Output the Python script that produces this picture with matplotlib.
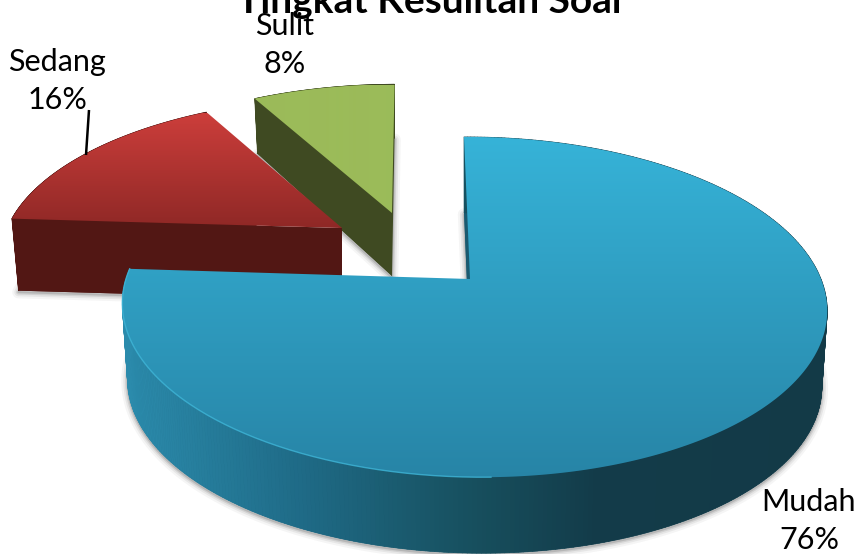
import numpy as np
import matplotlib
matplotlib.use("Agg")
import matplotlib.pyplot as plt
from matplotlib.collections import PolyCollection
from matplotlib.colors import LinearSegmentedColormap, to_rgb
from matplotlib.patches import Polygon

labels = ["Mudah", "Sedang", "Sulit"]
values = [76, 16, 8]
title = "Tingkat Kesulitan Soal"

plt.rcParams["font.family"] = ["Lato", "DejaVu Sans"]

W, H = 861, 554
fig = plt.figure(figsize=(W / 100, H / 100), dpi=100)
ax = fig.add_axes([0, 0, 1, 1])
ax.set_xlim(0, W)
ax.set_ylim(H, 0)
ax.axis("off")

K, MX = 0.165, -0.01

styles = [
    dict(A=(470, 279), M=((347.5, -7), (0, 165.5)), depth=76, s=(0.985, 1.0),
         top=("#36b3d8", "#2784a6"), ybar=(137, 480),
         side=[(125, "#2b8bac"), (300, "#1f6b87"), (470, "#17505f"),
               (600, "#133b49"), (830, "#133a47")],
         inner="#1a5a70", z=30),
    dict(A=(342, 228), M=((338, 8), (0, 152)), depth=72, s=(0.98, 1.0),
         top=("#cc3e3b", "#8f2826"), ybar=(113, 228),
         side=[(0, "#521714"), (861, "#521714")],
         inner="#521714", z=20),
    dict(A=(392, 213), M=((333, 3), (0, 150)), depth=63, s=(0.98, 1.07),
         top=("#9bbb59", "#9bbb59"), ybar=(85, 213),
         side=[(0, "#3f4a22"), (861, "#3f4a22")],
         inner="#3f4a22", z=10),
]


def project(theta, st, lower=False):
    X, Y = np.sin(theta), np.cos(theta)
    w = 1 + K * Y + MX * X
    (a, b), (c, d) = st["M"]
    px, py = (a * X + b * Y) / w, -(c * X + d * Y) / w
    ax0, ay0 = st["A"]
    if lower:
        return np.column_stack([ax0 + st["s"][0] * px,
                                ay0 + st["depth"] + st["s"][1] * py])
    return np.column_stack([ax0 + px, ay0 + py])


fractions = np.array(values, dtype=float) / sum(values)
edges = np.concatenate([[0], np.cumsum(fractions)]) * 2 * np.pi

for i, st in enumerate(styles):
    z = st["z"]
    th = np.linspace(edges[i], edges[i + 1], 420)
    rim = project(th, st)
    low = project(th, st, lower=True)
    ax0, ay0 = st["A"]
    apex = np.array([[ax0, ay0]])
    apex_low = np.array([[ax0, ay0 + st["depth"]]])

    # soft shadow around the extruded silhouette
    sil = np.vstack([low, apex_low])
    for lw, al in [(9, 0.05), (6, 0.08), (3.5, 0.12), (1.5, 0.18)]:
        ax.add_patch(Polygon(sil + np.array([0, 1.5]), closed=True, fc="none",
                             ec="#404040", lw=lw, alpha=al, zorder=z,
                             joinstyle="round"))

    # bottom and the visible cut face
    ax.add_patch(Polygon(sil, closed=True, fc=st["inner"], ec="none", zorder=z + 1))
    quad = np.vstack([rim[0], apex[0], apex_low[0], low[0]])
    ax.add_patch(Polygon(quad, closed=True, fc=st["inner"], ec="none", zorder=z + 2))

    # outer wall, shaded by horizontal position
    xs = np.array([p for p, _ in st["side"]], dtype=float)
    cs = np.array([to_rgb(c) for _, c in st["side"]])
    quads, cols = [], []
    for j in range(len(th) - 1):
        quads.append([rim[j], rim[j + 1], low[j + 1], low[j]])
        xm = rim[j, 0]
        cols.append([np.interp(xm, xs, cs[:, k]) for k in range(3)])
    ax.add_collection(PolyCollection(quads, facecolors=cols, edgecolors=cols,
                                     linewidths=0.5, zorder=z + 3))

    # top face with vertical gradient
    poly = Polygon(np.vstack([apex, rim]), closed=True, fc="none", ec="none",
                   transform=ax.transData, zorder=z + 4)
    ax.add_patch(poly)
    cmap = LinearSegmentedColormap.from_list("g", st["top"])
    im = ax.imshow(np.linspace(0, 1, 256)[:, None], cmap=cmap, aspect="auto",
                   extent=(0, W, st["ybar"][1], st["ybar"][0]), zorder=z + 4,
                   interpolation="bilinear")
    im.set_clip_path(poly)
    ax.set_xlim(0, W)
    ax.set_ylim(H, 0)

    if i == 0:
        front = th > np.deg2rad(178)
        ax.plot(rim[front, 0], rim[front, 1], color="#3fb6d8", lw=1.0,
                alpha=0.8, zorder=z + 5)

# leader line of the Sedang label
ax.plot([89, 86], [110, 155], color="black", lw=1.8, zorder=60,
        solid_capstyle="butt")

label_pos = [(809, 502), (57, 62), (285, 26)]
for (lx, ly), name, v in zip(label_pos, labels, values):
    ax.text(lx, ly, name, ha="center", va="center", fontsize=22,
            color="black", zorder=70)
    ax.text(lx, ly + 38, f"{v}%", ha="center", va="center", fontsize=22,
            color="black", zorder=70)

ax.text(429, 13, title, ha="center", va="baseline", fontsize=28,
        fontweight="bold", color="black", zorder=71, clip_on=False)

fig.savefig("out.png", dpi=100)
